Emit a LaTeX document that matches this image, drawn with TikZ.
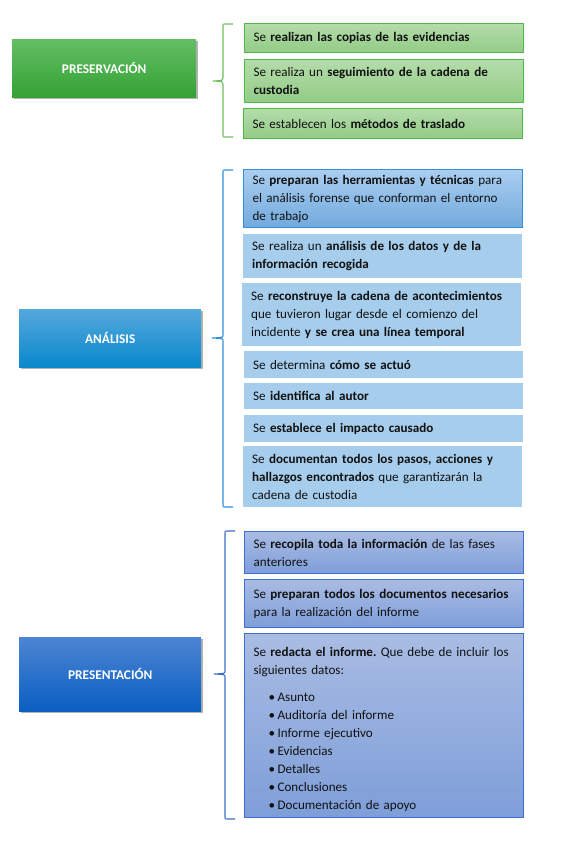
\documentclass[tikz,border=0pt]{standalone}
\usepackage{fontspec}
\setmainfont{Carlito}
\usetikzlibrary{shadows}
\frenchspacing
\definecolor{txt}{HTML}{111111}
\definecolor{gtop}{HTML}{B4DCAA}
\definecolor{gbot}{HTML}{92CC86}
\definecolor{gline}{HTML}{52B84A}
\definecolor{gltop}{HTML}{63BE63}
\definecolor{glbot}{HTML}{34A235}
\definecolor{gbrace}{HTML}{70BF5E}
\definecolor{bflat}{HTML}{A6CDEC}
\definecolor{btop}{HTML}{AACEF0}
\definecolor{bbot}{HTML}{72AADE}
\definecolor{bline}{HTML}{3A8ED5}
\definecolor{bltop}{HTML}{54A8DC}
\definecolor{blbot}{HTML}{0A88CC}
\definecolor{bbrace}{HTML}{2F8FD8}
\definecolor{ptop}{HTML}{A9BCE3}
\definecolor{pbot}{HTML}{7E9ED9}
\definecolor{pline}{HTML}{3C6FD0}
\definecolor{pltop}{HTML}{4C85D3}
\definecolor{plbot}{HTML}{0A5FC2}
\definecolor{pbrace}{HTML}{3B6EC6}
\newcommand\oneline[1]{\mbox{#1}}
\newcommand\bul[1]{\mbox{\hspace*{15pt}•\hspace{2.5pt}#1}}
\newcommand\mybrace[6]{% colour, x line, y top, y bottom, y tip, x tip
  \draw[#1, line width=1.1pt]
    (#2+10,#3) -- (#2+2,#3) .. controls (#2,#3) .. (#2,#3+2)
    -- (#2,#5-3) .. controls (#2,#5-0.5) .. (#6,#5)
    .. controls (#2,#5+0.5) .. (#2,#5+3)
    -- (#2,#4-2) .. controls (#2,#4) .. (#2+2,#4) -- (#2+10,#4);
}
\tikzset{
  base/.style={font=\fontsize{13.1}{18}\selectfont},
  itembox/.style={base, anchor=north west, minimum width=279pt, inner xsep=9pt,
    inner ysep=0pt, text width=261pt, align=left, text=txt},
  gitem/.style={itembox, top color=gtop, bottom color=gbot, draw=gline, line width=1.1pt},
  bitemA/.style={itembox, top color=btop, bottom color=bbot, draw=bline, line width=1.1pt},
  bitem/.style={itembox, fill=bflat},
  pitem/.style={itembox, top color=ptop, bottom color=pbot, draw=pline, line width=1.1pt},
  label/.style={anchor=north west, inner sep=0pt, text=white,
    font=\fontsize{13.3}{18}\selectfont\bfseries,
    drop shadow={opacity=0.3, shadow xshift=1.5pt, shadow yshift=-2pt, fill=black}},
}
\begin{document}
\begin{tikzpicture}[x=1pt, y=-1pt]
\fill[white] (0,0) rectangle (578,850);
\useasboundingbox (0,0) rectangle (578,850);

% ---------- PRESERVACION ----------
\node[label, top color=gltop, bottom color=glbot, minimum width=184pt, minimum height=58pt] (pres) at (12,39) {PRESERVACIÓN};
\node[gitem, minimum height=29pt] (g1) at (244,23) {\oneline{Se \textbf{realizan las copias de las evidencias}}};
\node[gitem, minimum height=43pt] (g2) at (244,59) {\oneline{Se realiza un \textbf{seguimiento de la cadena de}}\\\oneline{\textbf{custodia}}};
\node[gitem, minimum height=30pt] (g3) at (243,108) {\oneline{Se establecen los \textbf{métodos de traslado}}};
\mybrace{gbrace}{223}{24}{137}{81}{213}

% ---------- ANALISIS ----------
\node[label, top color=bltop, bottom color=blbot, minimum width=182pt, minimum height=58pt] (anal) at (19,309) {ANÁLISIS};
\node[bitemA, minimum height=58pt] (b1) at (243,169) {\oneline{Se \textbf{preparan las herramientas y técnicas} para}\\\oneline{el análisis forense que conforman el entorno}\\\oneline{de trabajo}};
\node[bitem, minimum height=44pt] (b2) at (243,234) {\oneline{Se realiza un \textbf{análisis de los datos y de la}}\\\oneline{\textbf{información recogida}}};
\node[bitem, minimum height=63pt] (b3) at (242,283) {\oneline{Se \textbf{reconstruye la cadena de acontecimientos}}\\\oneline{que tuvieron lugar desde el comienzo del}\\\oneline{incidente \textbf{y se crea una línea temporal}}};
\node[bitem, minimum height=27pt] (b4) at (244,351) {\oneline{Se determina \textbf{cómo se actuó}}};
\node[bitem, minimum height=26pt] (b5) at (244,383) {\oneline{Se \textbf{identifica al autor}}};
\node[bitem, minimum height=27pt] (b6) at (244,415) {\oneline{Se \textbf{establece el impacto causado}}};
\node[bitem, minimum height=61pt] (b7) at (243,446) {\oneline{Se \textbf{documentan todos los pasos, acciones y}}\\\oneline{\textbf{hallazgos encontrados} que garantizarán la}\\\oneline{cadena de custodia}};
\mybrace{bbrace}{223}{170}{507}{338}{212}

% ---------- PRESENTACION ----------
\node[label, top color=pltop, bottom color=plbot, minimum width=182pt, minimum height=74pt] (prsn) at (19,637) {PRESENTACIÓN};
\node[pitem, minimum height=42pt] (p1) at (244,531) {\oneline{Se \textbf{recopila toda la información} de las fases}\\\oneline{anteriores}};
\node[pitem, minimum height=48pt] (p2) at (244,579) {\oneline{Se \textbf{preparan todos los documentos necesarios}}\\\oneline{para la realización del informe}};
\node[pitem, minimum height=184pt] (p3) at (244,633) {\oneline{\rule{0pt}{16pt}Se \textbf{redacta el informe.} Que debe de incluir los}\\\oneline{siguientes datos:}\\[9pt]
\bul{Asunto}\\
\bul{Auditoría del informe}\\
\bul{Informe ejecutivo}\\
\bul{Evidencias}\\
\bul{Detalles}\\
\bul{Conclusiones}\\
\bul{Documentación de apoyo}};
\mybrace{pbrace}{225}{531}{819}{674}{214}
\end{tikzpicture}
\end{document}
